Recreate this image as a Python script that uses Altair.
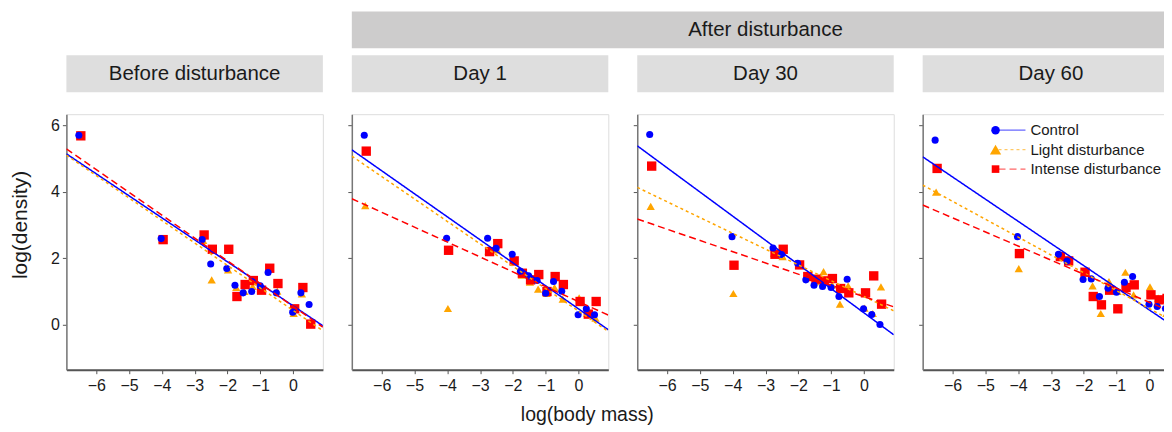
import altair as alt
import pandas as pd

# ---------------- data ----------------
panels = ["Before disturbance", "Day 1", "Day 30", "Day 60"]
series = ["Control", "Light disturbance", "Intense disturbance"]
colors = ["#0000ff", "#ffa500", "#ff0000"]
shapes = ["circle", "triangle-up", "square"]
sizes = [50, 88, 40]
dashes = [[1, 0], [3, 3], [7, 4]]

# log(body mass) of the 14 species (slightly dodged per treatment)
x_control = [-6.53, -4.02, -2.77, -2.51, -2.02, -1.77, -1.52, -1.26, -1.00, -0.76, -0.51, -0.01, 0.24, 0.49]
x_light = [-6.50, -3.98, -2.74, -2.48, -1.98, -1.73, -1.48, -1.23, -0.97, -0.73, -0.48, 0.02, 0.27, 0.52]
x_intense = [-6.47, -3.96, -2.71, -2.46, -1.96, -1.71, -1.46, -1.21, -0.96, -0.71, -0.46, 0.05, 0.30, 0.54]

# log(density) per panel and treatment
before_control = [5.70, 2.59, 2.56, 1.83, 1.69, 1.19, 0.96, 1.00, 1.17, 1.57, 0.96, 0.38, 0.96, 0.61]
before_light = [5.70, 2.57, 2.54, 1.35, 1.65, 1.12, 1.00, 1.15, 1.10, 1.72, 1.01, 0.34, 0.93, 0.02]
before_intense = [5.68, 2.56, 2.70, 2.27, 2.27, 0.85, 1.21, 1.33, 1.04, 1.70, 1.24, 0.48, 1.12, 0.02]

day1_control = [5.70, 2.60, 2.60, 2.30, 2.12, 1.61, 1.47, 1.33, 0.95, 1.30, 1.01, 0.30, 0.48, 0.30]
day1_light = [3.58, 0.49, 2.22, 2.25, 1.90, 1.49, 1.28, 1.07, 0.94, 1.12, 0.77, 0.81, 0.34, 0.20]
day1_intense = [5.22, 2.24, 2.20, 2.44, 1.92, 1.55, 1.35, 1.51, 1.00, 1.45, 1.21, 0.70, 0.32, 0.70]

day30_control = [5.72, 2.65, 2.31, 2.11, 1.85, 1.35, 1.19, 1.15, 1.12, 0.85, 1.37, 0.48, 0.31, 0.01]
day30_light = [3.56, 0.94, 2.15, 2.05, 1.80, 1.48, 1.30, 1.60, 1.20, 0.62, 1.17, 0.50, 0.34, 1.14]
day30_intense = [4.77, 1.79, 2.12, 2.27, 1.80, 1.45, 1.37, 1.32, 1.39, 1.09, 0.96, 0.96, 1.47, 0.62]

day60_control = [5.55, 2.65, 2.12, 1.92, 1.36, 1.38, 0.85, 1.10, 0.98, 1.28, 1.45, 0.62, 0.55, 0.49]
day60_light = [3.99, 1.69, 2.05, 1.95, 1.60, 1.17, 0.34, 1.30, 1.00, 1.58, 0.90, 1.14, 0.80, 0.34]
day60_intense = [4.70, 2.14, 2.05, 1.92, 1.58, 0.85, 0.60, 1.04, 0.48, 1.12, 1.20, 0.90, 0.75, 0.79]

# fitted lines: value at left and right edge of the x range (Control, Light, Intense)
line_x = [-6.91, 0.91]
before_line_left = [5.14, 5.10, 5.29]
before_line_right = [-0.03, -0.18, -0.07]
day1_line_left = [5.26, 5.07, 3.79]
day1_line_right = [-0.15, -0.20, 0.29]
day30_line_left = [5.38, 4.13, 3.18]
day30_line_right = [-0.30, 0.42, 0.54]
day60_line_left = [5.05, 4.20, 3.60]
day60_line_right = [-0.16, 0.00, 0.29]

x_ticks = [-6, -5, -4, -3, -2, -1, 0]
y_ticks = [0, 2, 4, 6]
x_title = "log(body mass)"
y_title = "log(density)"
group_title = "After disturbance"

# ---------------- tables ----------------
y_by_panel = [
    [before_control, before_light, before_intense],
    [day1_control, day1_light, day1_intense],
    [day30_control, day30_light, day30_intense],
    [day60_control, day60_light, day60_intense],
]
line_by_panel = [
    (before_line_left, before_line_right),
    (day1_line_left, day1_line_right),
    (day30_line_left, day30_line_right),
    (day60_line_left, day60_line_right),
]
x_by_series = [x_control, x_light, x_intense]
draw_order = [1, 2, 0]  # light, intense, control on top

pt_rows, ln_rows = [], []
for p, pname in enumerate(panels):
    for s in draw_order:
        for xv, yv in zip(x_by_series[s], y_by_panel[p][s]):
            pt_rows.append({"panel": pname, "series": series[s], "x": xv, "y": yv})
    left, right = line_by_panel[p]
    for s in range(3):
        ln_rows.append({"panel": pname, "series": series[s], "x": line_x[0], "y": left[s]})
        ln_rows.append({"panel": pname, "series": series[s], "x": line_x[1], "y": right[s]})
points = pd.DataFrame(pt_rows)
lines = pd.DataFrame(ln_rows)

# ---------------- styling ----------------
FONT = "Liberation Sans"
W, H = 257, 256
GAP = 29
TXT = "#1a1a1a"
xs = alt.Scale(domain=line_x, nice=False, zero=False)
ys = alt.Scale(domain=[-1.35, 6.33], nice=False, zero=False)
col_enc = alt.Color("series:N", scale=alt.Scale(domain=series, range=colors), legend=None)
shape_enc = alt.Shape("series:N", scale=alt.Scale(domain=series, range=shapes), legend=None)
size_enc = alt.Size("series:N", scale=alt.Scale(domain=series, range=sizes), legend=None)
dash_enc = alt.StrokeDash("series:N", scale=alt.Scale(domain=series, range=dashes), legend=None)


def panel_chart(i):
    pname = panels[i]
    xaxis = alt.Axis(values=x_ticks, title=None, labelFontSize=16, labelFont=FONT,
                     labelColor=TXT, tickColor="#555555", tickSize=4,
                     domainColor="#555555", domainWidth=2, grid=False, labelPadding=4,
                     labelFlush=False, labelOverlap=False)
    yaxis = alt.Axis(values=y_ticks, title=None, labels=(i == 0), labelFontSize=16,
                     labelFont=FONT, labelColor=TXT, tickColor="#555555", tickSize=4,
                     domainColor="#777777", domainWidth=1.5, grid=False, labelPadding=3)

    pts = alt.Chart(points[points.panel == pname]).mark_point(
        filled=True, opacity=1, strokeWidth=0
    ).encode(
        x=alt.X("x:Q", scale=xs, axis=xaxis),
        y=alt.Y("y:Q", scale=ys, axis=yaxis),
        color=col_enc, shape=shape_enc, size=size_enc,
    )
    lns = alt.Chart(lines[lines.panel == pname]).mark_line(strokeWidth=1.5, clip=True).encode(
        x=alt.X("x:Q", scale=xs), y=alt.Y("y:Q", scale=ys),
        color=col_enc, strokeDash=dash_enc, detail="series:N",
    )
    head_data = alt.Data(values=[{"label": pname}])
    head_box = alt.Chart(head_data).mark_rect(color="#dedede").encode(
        x=alt.value(0), x2=alt.value(W), y=alt.value(-59), y2=alt.value(-22)
    )
    head_txt = alt.Chart(head_data).mark_text(
        font=FONT, fontSize=20.5, color=TXT, baseline="middle", align="center"
    ).encode(text="label:N", x=alt.value(W / 2), y=alt.value(-40))
    layers = [pts, lns, head_box, head_txt]

    if i == 0:
        ytl = alt.Chart(alt.Data(values=[{"t": y_title}])).mark_text(
            font=FONT, fontSize=21, color=TXT, angle=270, baseline="middle", align="center"
        ).encode(text="t:N", x=alt.value(-45), y=alt.value(111))
        layers.append(ytl)
    if i == 1:
        gdata = alt.Data(values=[{"t": group_title}])
        gbox = alt.Chart(gdata).mark_rect(color="#cdcccc").encode(
            x=alt.value(0), x2=alt.value(3 * W + 2 * GAP), y=alt.value(-103), y2=alt.value(-66)
        )
        gtxt = alt.Chart(gdata).mark_text(
            font=FONT, fontSize=20.5, color=TXT, baseline="middle", align="center"
        ).encode(text="t:N", x=alt.value(1.5 * W + GAP), y=alt.value(-84))
        xtl = alt.Chart(alt.Data(values=[{"t": x_title}])).mark_text(
            font=FONT, fontSize=19.5, color=TXT, baseline="middle", align="center"
        ).encode(text="t:N", x=alt.value(236), y=alt.value(301))
        layers += [gbox, gtxt, xtl]
    if i == 3:
        for j, sname in enumerate(series):
            one = alt.Data(values=[{"series": sname}])
            yy = 16 + 19.5 * j
            layers.append(alt.Chart(one).mark_rule(
                strokeWidth=1.2, strokeDash=dashes[j], color=colors[j], opacity=0.6
            ).encode(x=alt.value(76), x2=alt.value(103), y=alt.value(yy)))
            layers.append(alt.Chart(one).mark_point(
                filled=True, size=sizes[j] * 1.45, opacity=1, strokeWidth=0,
                shape=shapes[j], color=colors[j]
            ).encode(x=alt.value(73), y=alt.value(yy)))
            layers.append(alt.Chart(one).mark_text(
                font=FONT, fontSize=15, color=TXT, align="left", baseline="middle"
            ).encode(text="series:N", x=alt.value(108), y=alt.value(yy)))

    return alt.layer(*layers).properties(width=W, height=H)


# negative right padding crops the figure at the window edge, as in the reference
chart = alt.hconcat(*[panel_chart(i) for i in range(4)], spacing=GAP, bounds="flush").properties(
    padding={"left": 1.5, "top": 2, "right": -16.2, "bottom": 0}
).configure_view(
    stroke="#888888", strokeWidth=1.2
).configure(background="white")

chart.save("out.html", embed_options={"renderer": "svg", "actions": False})
